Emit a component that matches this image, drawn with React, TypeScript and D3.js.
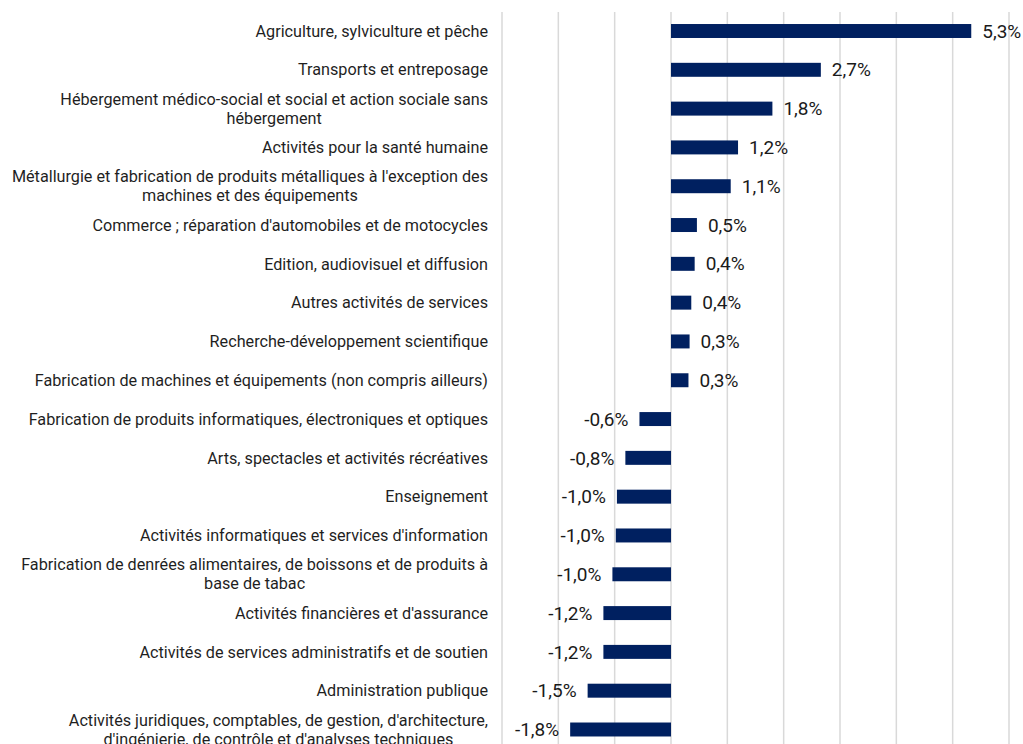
import React from "react";
import * as d3 from "d3";

const categories: string[] = [
  "Agriculture, sylviculture et pêche",
  "Transports et entreposage",
  "Hébergement médico-social et social et action sociale sans|hébergement",
  "Activités pour la santé humaine",
  "Métallurgie et fabrication de produits métalliques à l'exception des|machines et des équipements",
  "Commerce ; réparation d'automobiles et de motocycles",
  "Edition, audiovisuel et diffusion",
  "Autres activités de services",
  "Recherche-développement scientifique",
  "Fabrication de machines et équipements (non compris ailleurs)",
  "Fabrication de produits informatiques, électroniques et optiques",
  "Arts, spectacles et activités récréatives",
  "Enseignement",
  "Activités informatiques et services d'information",
  "Fabrication de denrées alimentaires, de boissons et de produits à|base de tabac",
  "Activités financières et d'assurance",
  "Activités de services administratifs et de soutien",
  "Administration publique",
  "Activités juridiques, comptables, de gestion, d'architecture,|d'ingénierie, de contrôle et d'analyses techniques",
];

const values: number[] = [
  5.33, 2.66, 1.8, 1.19, 1.06, 0.46, 0.42, 0.36, 0.33, 0.31,
  -0.56, -0.81, -0.96, -0.98, -1.04, -1.2, -1.2, -1.48, -1.79,
];

const gridTicks: number[] = [-3, -2, -1, 0, 1, 2, 3, 4, 5, 6];

const W = 1023;
const H = 744;

export default function App() {
  const x = d3.scaleLinear().domain([-3, 6]).range([502, 1009]);
  const y = d3
    .scaleBand<string>()
    .domain(categories)
    .range([11.6, 748.9])
    .paddingInner(0.64)
    .paddingOuter(0.32);
  const fmt = (v: number) => v.toFixed(1).replace(".", ",") + "%";
  const labelRight = 488;
  const font = "Roboto, 'Noto Sans', sans-serif";

  return (
    <svg
      width={W}
      height={H}
      style={{ position: "absolute", left: 0, top: 0, background: "#fff" }}
      fontFamily={font}
    >
      {gridTicks.map((t) => (
        <line
          key={t}
          x1={x(t)}
          x2={x(t)}
          y1={12}
          y2={H}
          stroke="#d9d9d9"
          strokeWidth={1.5}
        />
      ))}
      {categories.map((c, i) => {
        const v = values[i];
        const y0 = y(c)!;
        const bw = y.bandwidth();
        const cy = y0 + bw / 2;
        const lines = c.split("|");
        return (
          <g key={c}>
            <rect
              x={x(Math.min(0, v))}
              y={y0}
              width={Math.abs(x(v) - x(0))}
              height={bw}
              fill="#002060"
            />
            <text
              x={v >= 0 ? x(v) + 11 : x(v) - 11}
              y={cy}
              dy="0.35em"
              textAnchor={v >= 0 ? "start" : "end"}
              fontSize={19}
              fill="#1a1a1a"
            >
              {fmt(v)}
            </text>
            <CategoryLabel lines={lines} right={labelRight} cy={cy} />
          </g>
        );
      })}
    </svg>
  );
}

function CategoryLabel({
  lines,
  right,
  cy,
}: {
  lines: string[];
  right: number;
  cy: number;
}) {
  const ref = React.useRef<SVGGElement>(null);
  const lh = 19;
  React.useLayoutEffect(() => {
    if (!ref.current || lines.length < 2) return;
    const texts = Array.from(ref.current.querySelectorAll("text"));
    const widths = texts.map((t) => (t as SVGTextElement).getComputedTextLength());
    const maxW = Math.max(...widths);
    const center = right - maxW / 2;
    texts.forEach((t) => {
      t.setAttribute("x", String(center));
      t.setAttribute("text-anchor", "middle");
    });
  }, [lines, right]);
  return (
    <g ref={ref}>
      {lines.map((l, k) => (
        <text
          key={k}
          x={right}
          y={cy + (k - (lines.length - 1) / 2) * lh}
          dy="0.35em"
          textAnchor="end"
          fontSize={16.2}
          fill="#1f1f1f"
        >
          {l}
        </text>
      ))}
    </g>
  );
}
